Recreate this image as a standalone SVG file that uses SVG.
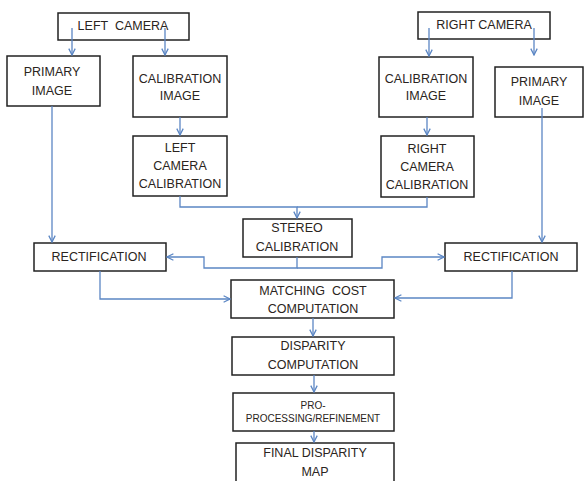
<svg xmlns="http://www.w3.org/2000/svg" width="584" height="481" viewBox="0 0 584 481">
<style>
.box{fill:#fff;stroke:#222;stroke-width:1.5}
text{font-family:"Liberation Sans",Arial,sans-serif;font-size:12.5px;fill:#2a2420;text-anchor:middle;white-space:pre}
.sm{font-size:10px}
.c{fill:none;stroke:#5b86c4;stroke-width:1.3}
</style>
<defs>
<marker id="ah" viewBox="0 0 10 10" refX="9" refY="5" markerWidth="8" markerHeight="8" markerUnits="userSpaceOnUse" orient="auto">
<polyline points="1,1 9,5 1,9" fill="none" stroke="#5b86c4" stroke-width="1.6"/>
</marker>
</defs>
<rect width="584" height="481" fill="#fff"/>
<g id="left-camera"><rect class="box" x="58" y="13" width="131" height="27"/><text x="123" y="30" xml:space="preserve">LEFT  CAMERA</text></g>
<g id="right-camera"><rect class="box" x="418" y="12" width="132" height="27"/><text x="484" y="29">RIGHT CAMERA</text></g>
<g id="left-primary"><rect class="box" x="7" y="56" width="93" height="50"/><text x="52" y="76">PRIMARY</text><text x="52" y="95">IMAGE</text></g>
<g id="left-calib-image"><rect class="box" x="133" y="56" width="94" height="61"/><text x="180" y="83">CALIBRATION</text><text x="180" y="100">IMAGE</text></g>
<g id="right-calib-image"><rect class="box" x="379" y="57" width="94" height="60"/><text x="426" y="83">CALIBRATION</text><text x="426" y="100">IMAGE</text></g>
<g id="right-primary"><rect class="box" x="495" y="67" width="88" height="50"/><text x="539" y="86">PRIMARY</text><text x="539" y="105">IMAGE</text></g>
<g id="left-camera-calib"><rect class="box" x="133" y="136" width="94" height="60"/><text x="180" y="152">LEFT</text><text x="180" y="170">CAMERA</text><text x="180" y="188">CALIBRATION</text></g>
<g id="right-camera-calib"><rect class="box" x="381" y="136" width="93" height="61"/><text x="427" y="153">RIGHT</text><text x="427" y="171">CAMERA</text><text x="427" y="189">CALIBRATION</text></g>
<g id="stereo-calib"><rect class="box" x="243" y="219" width="109" height="38"/><text x="297" y="232">STEREO</text><text x="297" y="251">CALIBRATION</text></g>
<g id="left-rect"><rect class="box" x="34" y="243" width="132" height="28"/><text x="99" y="261">RECTIFICATION</text></g>
<g id="right-rect"><rect class="box" x="445" y="243" width="132" height="28"/><text x="511" y="261">RECTIFICATION</text></g>
<g id="matching"><rect class="box" x="231" y="280" width="163" height="38"/><text x="313" y="295" xml:space="preserve">MATCHING  COST</text><text x="313" y="313">COMPUTATION</text></g>
<g id="disparity"><rect class="box" x="232" y="337" width="162" height="38"/><text x="313" y="350">DISPARITY</text><text x="313" y="369">COMPUTATION</text></g>
<g id="refine"><rect class="box" x="233" y="393" width="161" height="38"/><text class="sm" x="313" y="409">PRO-</text><text class="sm" x="313" y="422">PROCESSING/REFINEMENT</text></g>
<g id="final"><rect class="box" x="236" y="443" width="158" height="45"/><text x="315" y="457">FINAL DISPARITY</text><text x="315" y="476">MAP</text></g>
<g id="connectors">
<path class="c" d="M72 28V55" marker-end="url(#ah)"/>
<path class="c" d="M165 28V55" marker-end="url(#ah)"/>
<path class="c" d="M429 28V56" marker-end="url(#ah)"/>
<path class="c" d="M534 28V55" marker-end="url(#ah)"/>
<path class="c" d="M180 117V135" marker-end="url(#ah)"/>
<path class="c" d="M427 117V135" marker-end="url(#ah)"/>
<path class="c" d="M180 196V207H297V218" marker-end="url(#ah)"/>
<path class="c" d="M427 197V207H297"/>
<path class="c" d="M297 257V268H204V257H167" marker-end="url(#ah)"/>
<path class="c" d="M297 268H382V257H444" marker-end="url(#ah)"/>
<path class="c" d="M52 106V242" marker-end="url(#ah)"/>
<path class="c" d="M542 108V242" marker-end="url(#ah)"/>
<path class="c" d="M100 271V299H230" marker-end="url(#ah)"/>
<path class="c" d="M512 271V298H395" marker-end="url(#ah)"/>
<path class="c" d="M313 318V336" marker-end="url(#ah)"/>
<path class="c" d="M314 375V392" marker-end="url(#ah)"/>
<path class="c" d="M314 431V442" marker-end="url(#ah)"/>
</g>
</svg>
